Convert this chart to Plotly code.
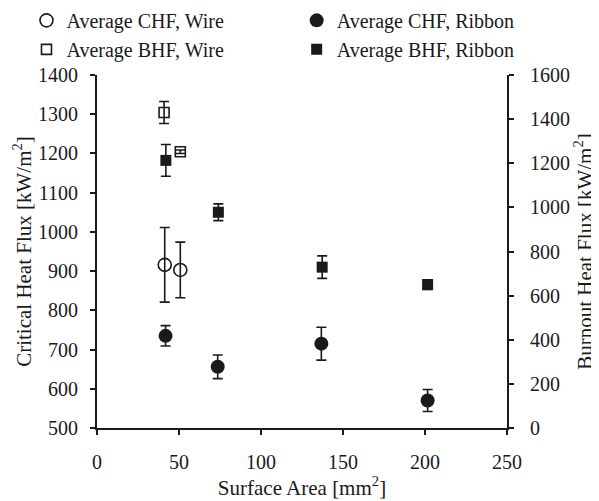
import plotly.graph_objects as go

# ---- data ----
wire_chf_area = [41.3, 50.8]
wire_chf = [916, 903]
wire_chf_err = [95, 71]

ribbon_chf_area = [41.8, 73.6, 136.8, 201.6]
ribbon_chf = [735, 656, 715, 570]
ribbon_chf_err = [26, 30, 42, 28]

wire_bhf_area = [40.9, 50.8]
wire_bhf = [1430, 1252]
wire_bhf_err = [50, 8]

ribbon_bhf_area = [42.0, 74.0, 137.3, 201.6]
ribbon_bhf = [1213, 978, 729, 650]
ribbon_bhf_err = [72, 38, 51, 22]

FONT = "Liberation Serif"
BLK = "#1a1a1a"

def eb(arr):
    return dict(type="data", array=arr, visible=True, color=BLK, thickness=1.6, width=5)

fig = go.Figure()
fig.add_trace(go.Scatter(x=wire_chf_area, y=wire_chf, mode="markers", name="Average CHF, Wire",
                         marker=dict(symbol="circle-open", size=13, color=BLK, line=dict(width=1.6, color=BLK)),
                         error_y=eb(wire_chf_err), legend="legend"))
fig.add_trace(go.Scatter(x=wire_bhf_area, y=wire_bhf, mode="markers", name="Average BHF, Wire", yaxis="y2",
                         marker=dict(symbol="square-open", size=10, color=BLK, line=dict(width=1.6, color=BLK)),
                         error_y=eb(wire_bhf_err), legend="legend"))
fig.add_trace(go.Scatter(x=ribbon_chf_area, y=ribbon_chf, mode="markers", name="Average CHF, Ribbon",
                         marker=dict(symbol="circle", size=14, color=BLK),
                         error_y=eb(ribbon_chf_err), legend="legend2"))
fig.add_trace(go.Scatter(x=ribbon_bhf_area, y=ribbon_bhf, mode="markers", name="Average BHF, Ribbon", yaxis="y2",
                         marker=dict(symbol="square", size=11, color=BLK),
                         error_y=eb(ribbon_bhf_err), legend="legend2"))

axis_common = dict(showline=True, linecolor=BLK, linewidth=2, ticks="outside", ticklen=5,
                   tickwidth=2, tickcolor=BLK, showgrid=False, zeroline=False, automargin=False,
                   tickfont=dict(family=FONT, size=20, color=BLK))
TF = dict(family=FONT, size=21, color=BLK)

fig.update_layout(
    width=599, height=501,
    margin=dict(l=89, r=100, t=67, b=81, autoexpand=False),
    paper_bgcolor="white", plot_bgcolor="white",
    font=dict(family=FONT, color=BLK),
    xaxis=dict(range=[0, 250], dtick=50, ticklabelstandoff=10,
               title=dict(text="Surface Area [mm<sup>2</sup>]", font=TF, standoff=0),
               **axis_common),
    yaxis=dict(range=[500, 1400], dtick=100, ticklabelstandoff=8,
               title=dict(text="Critical Heat Flux [kW/m<sup>2</sup>]", font=TF, standoff=1),
               **axis_common),
    yaxis2=dict(range=[0, 1600], dtick=200, overlaying="y", side="right", ticklabelstandoff=12,
                title=dict(text="Burnout Heat Flux [kW/m<sup>2</sup>]", font=TF, standoff=0),
                **axis_common),
    legend=dict(x=-0.172, y=1.21, xanchor="left", yanchor="top", orientation="v",
                font=dict(family=FONT, size=20, color=BLK), bgcolor="rgba(0,0,0,0)", tracegroupgap=0,
                itemwidth=30),
    legend2=dict(x=0.487, y=1.21, xanchor="left", yanchor="top", orientation="v",
                 font=dict(family=FONT, size=20, color=BLK), bgcolor="rgba(0,0,0,0)", tracegroupgap=0,
                 itemwidth=30),
    showlegend=True,
)

fig.write_html("out.html")
